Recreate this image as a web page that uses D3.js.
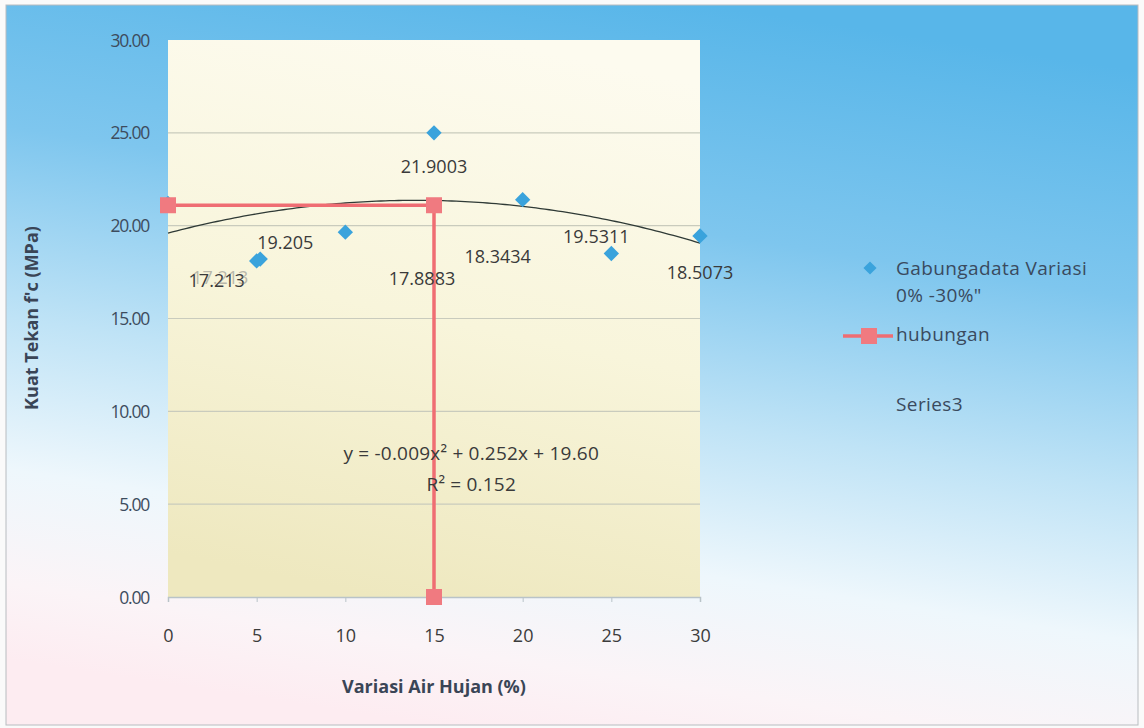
<!DOCTYPE html>
<html><head><meta charset="utf-8">
<script src="https://cdn.jsdelivr.net/npm/d3@7"></script>
<style>body{margin:0;background:#fff;} svg{display:block;} text{font-family:"Open Sans",Lato,sans-serif;}</style>
</head><body>
<script>
// ---- data ----
const xTicks = [0,5,10,15,20,25,30];
const yTicks = [0,5,10,15,20,25,30];
const yTickLabels = ["0.00","5.00","10.00","15.00","20.00","25.00","30.00"];
const scatterX = [0, 5, 5.2, 10, 15, 20, 25, 30];
const scatterY = [21.2, 18.1, 18.2, 19.65, 25.0, 21.4, 18.5, 19.45];
const labelText = ["", "17.213", "17.213", "19.205", "21.9003", "18.3434", "19.5311", "18.5073"];
const hubX = [0, 15, 15];
const hubY = [21.1, 21.1, 0];
const hubLabel = ["", "17.8883", ""];
const trendCoef = [-0.009, 0.252, 19.60]; // a x^2 + b x + c
const eqText = ["y = -0.009x\u00B2 + 0.252x + 19.60", "R\u00B2 = 0.152"];
const legendNames = ["Gabungadata Variasi", "0% -30%\"", "hubungan", "Series3"];
const xTitle = "Variasi Air Hujan (%)";
const yTitle = "Kuat Tekan f'c (MPa)";

const W = 1144, H = 728;
const svg = d3.select("body").append("svg").attr("width", W).attr("height", H);
const defs = svg.append("defs");
const bg = defs.append("linearGradient").attr("id","bg").attr("x1","0.62").attr("y1","0").attr("x2","0.38").attr("y2","1");
[[0,"#58b6e9"],[0.3,"#7ec6ee"],[0.55,"#bfe3f6"],[0.75,"#eef7fc"],[0.9,"#fbf4f7"],[1,"#fdecf1"]].forEach(s=>bg.append("stop").attr("offset",s[0]).attr("stop-color",s[1]));
const pg = defs.append("linearGradient").attr("id","pg").attr("x1","0.6").attr("y1","0").attr("x2","0.4").attr("y2","1");
[[0,"#fdfbef"],[0.5,"#f8f5db"],[1,"#eee8bf"]].forEach(s=>pg.append("stop").attr("offset",s[0]).attr("stop-color",s[1]));

svg.append("rect").attr("x",0).attr("y",0).attr("width",W).attr("height",H).attr("fill","#fafafa");
svg.append("rect").attr("x",6).attr("y",5).attr("width",1132).attr("height",720).attr("fill","url(#bg)").attr("stroke","#b8bcc0").attr("stroke-width",1);

const L = 168, R = 700, T = 40, B = 597;
const x = d3.scaleLinear().domain([0,30]).range([L,R]);
const y = d3.scaleLinear().domain([0,30]).range([B,T]);

svg.append("rect").attr("x",L).attr("y",T).attr("width",R-L).attr("height",B-T).attr("fill","url(#pg)");

// gridlines
svg.append("g").selectAll("line").data(yTicks.filter(d=>d>0 && d<30)).join("line")
  .attr("x1",L).attr("x2",R).attr("y1",d=>y(d)).attr("y2",d=>y(d))
  .attr("stroke","#c9cbbd").attr("stroke-width",1.2);

// x axis
const xa = svg.append("g").attr("transform",`translate(0,${B})`)
  .call(d3.axisBottom(x).tickValues(xTicks).tickSize(5).tickFormat(d=>d));
xa.select(".domain").attr("stroke","#b9c3c8").attr("stroke-width",1.5);
xa.selectAll(".tick line").attr("stroke","#b9c3c8");
xa.selectAll("text").attr("font-family","'Open Sans',sans-serif").attr("font-size",18).attr("fill","#3c3c3c").attr("dy",0).attr("y",45);

// y axis labels
const ya = svg.append("g").attr("transform",`translate(${L},0)`)
  .call(d3.axisLeft(y).tickValues(yTicks).tickSize(0).tickFormat((d,i)=>yTickLabels[i]));
ya.select(".domain").remove();
ya.selectAll("text").attr("font-family","'Open Sans',sans-serif").attr("font-size",17.5).attr("fill","#3d4c5e").attr("x",-19).attr("dy","0.35em").attr("letter-spacing","-1.2px");

// trendline
const tr = d3.range(0,30.01,0.25).map(v=>[v, trendCoef[0]*v*v + trendCoef[1]*v + trendCoef[2]]);
svg.append("path").datum(tr).attr("fill","none").attr("stroke","#2f3a36").attr("stroke-width",1.3)
  .attr("d", d3.line().x(d=>x(d[0])).y(d=>y(d[1])));

// scatter diamonds
const scat = scatterX.map((v,i)=>({x:v,y:scatterY[i],l:labelText[i]}));
svg.append("g").selectAll("path").data(scat).join("path")
  .attr("transform",d=>`translate(${x(d.x)},${y(d.y)})`)
  .attr("d", d3.symbol(d3.symbolDiamond2, 150)())
  .attr("fill","#3aa3dc");

// hubungan line
const hub = hubX.map((v,i)=>({x:v,y:hubY[i],l:hubLabel[i]}));
svg.append("path").datum(hub).attr("fill","none").attr("stroke","#ef6d73").attr("stroke-width",3.5)
  .attr("d", d3.line().x(d=>x(d.x)).y(d=>y(d.y)));
svg.append("g").selectAll("rect").data(hub).join("rect")
  .attr("x",d=>x(d.x)-8).attr("y",d=>y(d.y)-8).attr("width",16).attr("height",16)
  .attr("fill","#f07a80");

// data labels (offsets from each point)
const offs = [[0,0],[-40,21],[-40,20],[-60,12],[0,35],[-25,59],[-15,-15],[0,38]];
svg.append("g").selectAll("text").data(scat.filter(d=>d.l)).join("text")
  .attr("x",(d)=>x(d.x)+offs[scat.indexOf(d)][0]).attr("y",d=>y(d.y)+offs[scat.indexOf(d)][1])
  .attr("text-anchor","middle").attr("dominant-baseline","middle")
  .attr("font-size",18).attr("fill",(d,i)=>i===1?"#7a7a7a":"#3a3a3a").attr("fill-opacity",(d,i)=>i===1?0.5:1)
  .text(d=>d.l);
svg.append("g").selectAll("text").data(hub.filter(d=>d.l)).join("text")
  .attr("x",d=>x(d.x)-12).attr("y",d=>y(d.y)+75)
  .attr("text-anchor","middle").attr("dominant-baseline","middle")
  .attr("font-size",18).attr("fill","#3a3a3a").text(d=>d.l);

// equation
svg.append("g").selectAll("text").data(eqText).join("text")
  .attr("x",x(17.1)).attr("y",(d,i)=>455+i*31).attr("text-anchor","middle").attr("dominant-baseline","middle")
  .attr("font-size",19).attr("letter-spacing","0.2px").attr("fill","#3a3a3a").text(d=>d);

// axis titles
svg.append("text").attr("x",x(15)).attr("y",688).attr("text-anchor","middle").attr("dominant-baseline","middle")
  .attr("font-size",18).attr("font-weight","bold").attr("fill","#3a4556").text(xTitle);
svg.append("text").attr("transform",`translate(33,318) rotate(-90)`).attr("text-anchor","middle").attr("dominant-baseline","middle")
  .attr("font-size",18).attr("font-weight","bold").attr("fill","#3a4556").text(yTitle);

// legend
const lg = svg.append("g");
lg.append("path").attr("transform","translate(870,268)").attr("d", d3.symbol(d3.symbolDiamond2, 110)()).attr("fill","#3aa3dc");
lg.append("line").attr("x1",843).attr("x2",893).attr("y1",336).attr("y2",336).attr("stroke","#ef6d73").attr("stroke-width",3.5);
lg.append("rect").attr("x",861).attr("y",328).attr("width",16).attr("height",16).attr("fill","#f07a80");
const ly = [270, 297, 336, 406];
lg.selectAll("text").data(legendNames).join("text")
  .attr("x",896).attr("y",(d,i)=>ly[i]).attr("dominant-baseline","middle")
  .attr("font-size",19).attr("letter-spacing","0.4px").attr("fill","#3a4a5e").text(d=>d);
</script>
</body></html>
